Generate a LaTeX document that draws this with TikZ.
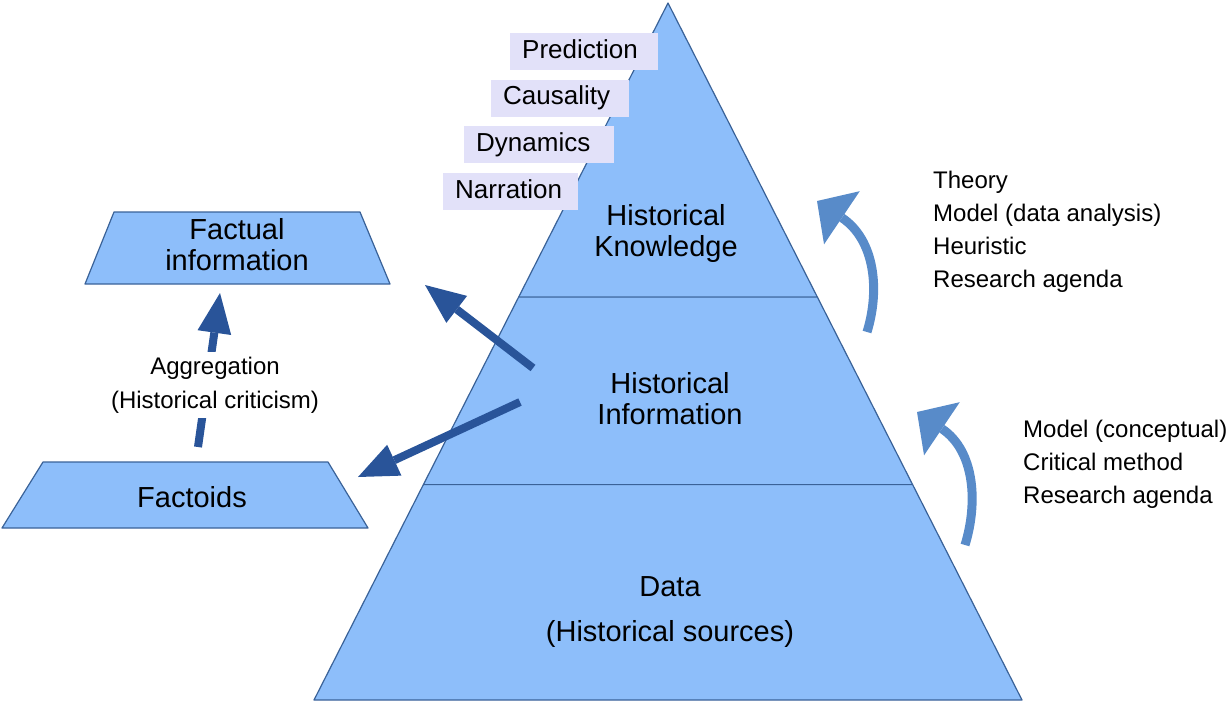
\documentclass[tikz,border=0pt]{standalone}
\usepackage{fontspec}
\setmainfont{Liberation Sans}
\usetikzlibrary{arrows.meta,calc}

\definecolor{pyrblue}{RGB}{141,190,250}
\definecolor{pyredge}{RGB}{58,98,152}
\definecolor{tagfill}{RGB}{226,225,249}
\definecolor{arrowdark}{RGB}{41,84,153}
\definecolor{arrowmid}{RGB}{88,139,201}

\begin{document}
\begin{tikzpicture}[x=1pt,y=-1pt,
  layer/.style={fill=pyrblue,draw=pyredge,line width=1.2pt,line join=round},
  bigtext/.style={font=\fontsize{29}{31}\selectfont,align=center,inner sep=0pt},
  tag/.style={fill=tagfill,font=\fontsize{26}{30}\selectfont,anchor=west,
    inner xsep=12pt,inner ysep=0pt,minimum height=37pt,
    text height=19pt,text depth=6pt,text width=#1,align=left},
  listtext/.style={font=\fontsize{24}{33}\selectfont,align=left,anchor=west,inner sep=0pt},
  fatarrow/.style={draw=arrowdark,line width=8pt,
    -{Triangle[length=40pt,width=34pt,line width=0pt]}},
  bendarrow/.style={draw=arrowmid,line width=9pt,
    -{Triangle[length=30pt,width=64pt,line width=0pt]}}]

\useasboundingbox (0,0) rectangle (1228,705);

%---------------- Pyramid ----------------
\coordinate (apex) at (668,3);
\coordinate (baseL) at (314,700);
\coordinate (baseR) at (1022,700);
\coordinate (midL1) at ($(apex)!0.422!(baseL)$);
\coordinate (midR1) at ($(apex)!0.422!(baseR)$);
\coordinate (midL2) at ($(apex)!0.691!(baseL)$);
\coordinate (midR2) at ($(apex)!0.691!(baseR)$);

\draw[layer] (apex) -- (midR1) -- (midL1) -- cycle;
\draw[layer] (midL1) -- (midR1) -- (midR2) -- (midL2) -- cycle;
\draw[layer] (midL2) -- (midR2) -- (baseR) -- (baseL) -- cycle;

\node[bigtext] (know) at (666,233) {Historical\\Knowledge};
\node[bigtext] (info) at (670,399) {Historical\\Information};
\node[bigtext] (data) at (670,612) {Data\\[14pt](Historical sources)};

% Labels on the top level
\node[tag=124pt] (pred) at (510,51.5) {Prediction};
\node[tag=114pt] (caus) at (491,98) {Causality};
\node[tag=126pt] (dyn) at (464,144.5) {Dynamics};
\node[tag=111pt] (narr) at (443,191.5) {Narration};

%---------------- Left side ----------------
\draw[layer] (114,212) -- (360,212) -- (390,284) -- (85,284) -- cycle;
\node[bigtext] (fact) at (237,245) {Factual\\information};

\draw[layer] (43,462) -- (328,462) -- (368,528) -- (2,528) -- cycle;
\node[bigtext] (factoid) at (192,497) {Factoids};

% Aggregation arrow, text over it
\coordinate (aggFrom) at (198,447);
\coordinate (aggTo) at (220,293);
\draw[fatarrow] (aggFrom) -- (aggTo);
\node[font=\fontsize{24}{34}\selectfont,align=center,fill=white,
  inner xsep=2pt,inner ysep=5pt] (agg) at (215,385)
  {Aggregation\\(Historical criticism)};

% From information to the left
\coordinate (infoUp) at (533,368);
\coordinate (factTip) at (425,285);
\coordinate (infoDown) at (520,402);
\coordinate (factoidTip) at (358,477);
\draw[fatarrow] (infoUp) -- (factTip);
\draw[fatarrow] (infoDown) -- (factoidTip);

%---------------- Right side ----------------
\coordinate (upperFrom) at (867,332);
\coordinate (upperTo) at (817,201);
\coordinate (lowerFrom) at (965,545);
\coordinate (lowerTo) at (917,412);
\draw[bendarrow] (upperFrom) .. controls +(13,-42) and +(58,39) .. (upperTo);
\draw[bendarrow] (lowerFrom) .. controls +(13,-42) and +(58,39) .. (lowerTo);

\node[listtext] (upperlist) at (933,232)
  {Theory\\Model (data analysis)\\Heuristic\\Research agenda};
\node[listtext] (lowerlist) at (1023,464)
  {Model (conceptual)\\Critical method\\Research agenda};

\end{tikzpicture}
\end{document}
